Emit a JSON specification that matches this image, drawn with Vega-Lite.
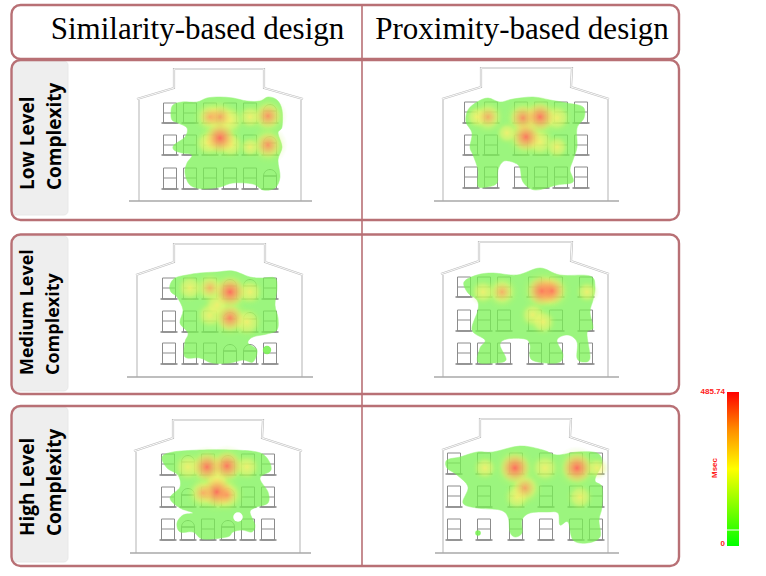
{"$schema":"https://vega.github.io/schema/vega-lite/v6.json","width":766,"height":576,"padding":0,"autosize":"none","background":"white","view":{"stroke":null},"config":{"axis":{"disable":true}},"resolve":{"scale":{"size":"independent"}},
"encoding":{"x":{"field":"x","type":"quantitative","axis":null,"scale":{"domain":[0,766],"nice":false,"zero":false}},"y":{"field":"y","type":"quantitative","axis":null,"scale":{"domain":[0,576],"nice":false,"zero":false,"reverse":true}}},
"datasets":{
"frames":[{"x":11.5,"x2":679,"y":5,"y2":59},{"x":11.5,"x2":679,"y":60,"y2":220},{"x":11.5,"x2":679,"y":234.5,"y2":394},{"x":11.5,"x2":679,"y":406,"y2":566}],
"boxes":[{"x":12,"x2":68,"y":61,"y2":215},{"x":12,"x2":68,"y":236,"y2":391},{"x":12,"x2":68,"y":407,"y2":562}],
"roof":[
{"p":"A","o":1,"x":137,"y":99},{"p":"A","o":2,"x":174,"y":88},{"p":"A","o":3,"x":174,"y":69},{"p":"A","o":4,"x":264,"y":69},{"p":"A","o":5,"x":264,"y":88},{"p":"A","o":6,"x":303,"y":99},
{"p":"B","o":1,"x":442,"y":99},{"p":"B","o":2,"x":481,"y":87},{"p":"B","o":3,"x":481,"y":68},{"p":"B","o":4,"x":572,"y":68},{"p":"B","o":5,"x":571,"y":87},{"p":"B","o":6,"x":609,"y":99},
{"p":"C","o":1,"x":136,"y":275},{"p":"C","o":2,"x":174,"y":262},{"p":"C","o":3,"x":174,"y":244},{"p":"C","o":4,"x":265,"y":244},{"p":"C","o":5,"x":265,"y":262},{"p":"C","o":6,"x":303,"y":275},
{"p":"D","o":1,"x":441,"y":274},{"p":"D","o":2,"x":479,"y":261},{"p":"D","o":3,"x":479,"y":242},{"p":"D","o":4,"x":572,"y":242},{"p":"D","o":5,"x":571,"y":261},{"p":"D","o":6,"x":609,"y":274},
{"p":"E","o":1,"x":134,"y":451},{"p":"E","o":2,"x":173,"y":438},{"p":"E","o":3,"x":173,"y":420},{"p":"E","o":4,"x":263,"y":420},{"p":"E","o":5,"x":262,"y":438},{"p":"E","o":6,"x":302,"y":451},
{"p":"F","o":1,"x":442,"y":450},{"p":"F","o":2,"x":480,"y":437},{"p":"F","o":3,"x":480,"y":419},{"p":"F","o":4,"x":571,"y":419},{"p":"F","o":5,"x":570,"y":437},{"p":"F","o":6,"x":609,"y":450}],
"walls":[{"x":139,"x2":139,"y":100,"y2":201},{"x":301,"x2":301,"y":100,"y2":201},{"x":443,"x2":443,"y":100,"y2":201},{"x":608,"x2":608,"y":100,"y2":201},{"x":137,"x2":137,"y":276,"y2":377},{"x":302,"x2":302,"y":276,"y2":377},{"x":443,"x2":443,"y":275,"y2":377},{"x":608,"x2":608,"y":275,"y2":377},{"x":136,"x2":136,"y":452,"y2":553},{"x":300,"x2":300,"y":452,"y2":553},{"x":443,"x2":443,"y":451,"y2":553},{"x":608,"x2":608,"y":451,"y2":553}],
"ground":[{"x":129,"x2":312,"y":201,"y2":201},{"x":434,"x2":619,"y":201,"y2":201},{"x":127,"x2":313,"y":377,"y2":377},{"x":434,"x2":619,"y":377,"y2":377},{"x":130,"x2":311,"y":553,"y2":553},{"x":435,"x2":619,"y":553,"y2":553}],
"windows":[
{"x":170,"y":103,"m":113,"y2":123},{"x":190,"y":103,"m":113,"y2":123},{"x":210,"y":103,"m":113,"y2":123},{"x":230,"y":103,"m":113,"y2":123},{"x":250,"y":103,"m":113,"y2":123},{"x":270,"y":111,"m":111,"y2":123},
{"x":170,"y":135,"m":145,"y2":155},{"x":190,"y":135,"m":145,"y2":155},{"x":210,"y":135,"m":145,"y2":155},{"x":230,"y":135,"m":145,"y2":155},{"x":250,"y":135,"m":145,"y2":155},{"x":270,"y":143,"m":143,"y2":155},
{"x":170,"y":168,"m":178,"y2":189},{"x":190,"y":168,"m":178,"y2":189},{"x":210,"y":168,"m":178,"y2":189},{"x":230,"y":168,"m":178,"y2":189},{"x":250,"y":168,"m":178,"y2":189},{"x":270,"y":176,"m":176,"y2":189},
{"x":471,"y":102,"m":112,"y2":123},{"x":491,"y":102,"m":112,"y2":123},{"x":521,"y":102,"m":112,"y2":123},{"x":541,"y":102,"m":112,"y2":123},{"x":561,"y":102,"m":112,"y2":123},{"x":581,"y":102,"m":112,"y2":123},
{"x":471,"y":135,"m":145,"y2":155},{"x":491,"y":135,"m":145,"y2":155},{"x":521,"y":135,"m":145,"y2":155},{"x":541,"y":135,"m":145,"y2":155},{"x":561,"y":135,"m":145,"y2":155},{"x":581,"y":135,"m":145,"y2":155},
{"x":471,"y":167,"m":177,"y2":188},{"x":491,"y":167,"m":177,"y2":188},{"x":521,"y":167,"m":177,"y2":188},{"x":541,"y":167,"m":177,"y2":188},{"x":561,"y":167,"m":177,"y2":188},{"x":581,"y":167,"m":177,"y2":188},
{"x":169,"y":278,"m":288,"y2":299},{"x":190,"y":278,"m":288,"y2":299},{"x":210,"y":278,"m":288,"y2":299},{"x":230,"y":286,"m":286,"y2":299},{"x":250,"y":286,"m":286,"y2":299},{"x":270,"y":278,"m":288,"y2":299},
{"x":169,"y":311,"m":321,"y2":332},{"x":190,"y":311,"m":321,"y2":332},{"x":210,"y":311,"m":321,"y2":332},{"x":230,"y":319,"m":319,"y2":332},{"x":250,"y":319,"m":319,"y2":332},{"x":270,"y":311,"m":321,"y2":332},
{"x":169,"y":343,"m":353,"y2":364},{"x":190,"y":343,"m":353,"y2":364},{"x":210,"y":343,"m":353,"y2":364},{"x":230,"y":351,"m":351,"y2":364},{"x":250,"y":351,"m":351,"y2":364},{"x":270,"y":343,"m":353,"y2":364},
{"x":464,"y":277,"m":287,"y2":297},{"x":484,"y":277,"m":287,"y2":297},{"x":504,"y":277,"m":287,"y2":297},{"x":535,"y":277,"m":287,"y2":297},{"x":556,"y":277,"m":287,"y2":297},{"x":586,"y":277,"m":287,"y2":297},
{"x":464,"y":310,"m":320,"y2":331},{"x":484,"y":310,"m":320,"y2":331},{"x":504,"y":310,"m":320,"y2":331},{"x":535,"y":310,"m":320,"y2":331},{"x":556,"y":310,"m":320,"y2":331},{"x":586,"y":310,"m":320,"y2":331},
{"x":464,"y":343,"m":353,"y2":364},{"x":484,"y":343,"m":353,"y2":364},{"x":504,"y":343,"m":353,"y2":364},{"x":535,"y":343,"m":353,"y2":364},{"x":556,"y":343,"m":353,"y2":364},{"x":586,"y":343,"m":353,"y2":364},
{"x":168,"y":454,"m":464,"y2":475},{"x":188,"y":462,"m":462,"y2":475},{"x":208,"y":454,"m":464,"y2":475},{"x":228,"y":462,"m":462,"y2":475},{"x":248,"y":454,"m":464,"y2":475},{"x":268,"y":454,"m":464,"y2":475},
{"x":168,"y":487,"m":497,"y2":507},{"x":188,"y":495,"m":495,"y2":507},{"x":208,"y":487,"m":497,"y2":507},{"x":228,"y":495,"m":495,"y2":507},{"x":248,"y":487,"m":497,"y2":507},{"x":268,"y":487,"m":497,"y2":507},
{"x":168,"y":519,"m":529,"y2":540},{"x":188,"y":527,"m":527,"y2":540},{"x":208,"y":519,"m":529,"y2":540},{"x":228,"y":527,"m":527,"y2":540},{"x":248,"y":519,"m":529,"y2":540},{"x":268,"y":519,"m":529,"y2":540},
{"x":454,"y":453,"m":463,"y2":474},{"x":484,"y":453,"m":463,"y2":474},{"x":516,"y":453,"m":463,"y2":474},{"x":546,"y":453,"m":463,"y2":474},{"x":576,"y":453,"m":463,"y2":474},{"x":596,"y":453,"m":463,"y2":474},
{"x":454,"y":486,"m":496,"y2":507},{"x":484,"y":486,"m":496,"y2":507},{"x":516,"y":486,"m":496,"y2":507},{"x":546,"y":486,"m":496,"y2":507},{"x":576,"y":486,"m":496,"y2":507},{"x":596,"y":486,"m":496,"y2":507},
{"x":454,"y":519,"m":529,"y2":540},{"x":484,"y":519,"m":529,"y2":540},{"x":516,"y":519,"m":529,"y2":540},{"x":546,"y":519,"m":529,"y2":540},{"x":576,"y":519,"m":529,"y2":540},{"x":596,"y":519,"m":529,"y2":540}],
"arches":[{"x":270,"y":111},{"x":270,"y":143},{"x":270,"y":176},{"x":230,"y":286},{"x":250,"y":286},{"x":230,"y":319},{"x":250,"y":319},{"x":230,"y":351},{"x":250,"y":351},{"x":188,"y":462},{"x":228,"y":462},{"x":188,"y":495},{"x":228,"y":495},{"x":188,"y":527},{"x":228,"y":527}],
"green":[
{"p":"A","o":1,"x":171,"y":112},{"p":"A","o":2,"x":173,"y":105},{"p":"A","o":3,"x":182,"y":102},{"p":"A","o":4,"x":197,"y":102},{"p":"A","o":5,"x":207,"y":98},{"p":"A","o":6,"x":220,"y":97},{"p":"A","o":7,"x":233,"y":98},{"p":"A","o":8,"x":247,"y":101},{"p":"A","o":9,"x":260,"y":101},{"p":"A","o":10,"x":268,"y":97},{"p":"A","o":11,"x":277,"y":100},{"p":"A","o":12,"x":282,"y":110},{"p":"A","o":13,"x":282,"y":127},{"p":"A","o":14,"x":278,"y":133},{"p":"A","o":15,"x":282,"y":147},{"p":"A","o":16,"x":278,"y":160},{"p":"A","o":17,"x":280,"y":177},{"p":"A","o":18,"x":275,"y":188},{"p":"A","o":19,"x":263,"y":190},{"p":"A","o":20,"x":253,"y":184},{"p":"A","o":21,"x":233,"y":183},{"p":"A","o":22,"x":220,"y":187},{"p":"A","o":23,"x":203,"y":189},{"p":"A","o":24,"x":190,"y":185},{"p":"A","o":25,"x":185,"y":173},{"p":"A","o":26,"x":187,"y":163},{"p":"A","o":27,"x":192,"y":155},{"p":"A","o":28,"x":182,"y":153},{"p":"A","o":29,"x":174,"y":150},{"p":"A","o":30,"x":174,"y":145},{"p":"A","o":31,"x":185,"y":137},{"p":"A","o":32,"x":187,"y":128},{"p":"A","o":33,"x":178,"y":123},{"p":"A","o":34,"x":172,"y":120},
{"p":"B","o":1,"x":466,"y":122},{"p":"B","o":2,"x":468,"y":110},{"p":"B","o":3,"x":477,"y":102},{"p":"B","o":4,"x":488,"y":98},{"p":"B","o":5,"x":500,"y":102},{"p":"B","o":6,"x":513,"y":99},{"p":"B","o":7,"x":533,"y":97},{"p":"B","o":8,"x":550,"y":100},{"p":"B","o":9,"x":567,"y":103},{"p":"B","o":10,"x":583,"y":107},{"p":"B","o":11,"x":584,"y":118},{"p":"B","o":12,"x":577,"y":128},{"p":"B","o":13,"x":577,"y":147},{"p":"B","o":14,"x":573,"y":160},{"p":"B","o":15,"x":570,"y":170},{"p":"B","o":16,"x":573,"y":182},{"p":"B","o":17,"x":557,"y":185},{"p":"B","o":18,"x":535,"y":190},{"p":"B","o":19,"x":523,"y":182},{"p":"B","o":20,"x":520,"y":168},{"p":"B","o":21,"x":515,"y":163},{"p":"B","o":22,"x":504,"y":161},{"p":"B","o":23,"x":498,"y":170},{"p":"B","o":24,"x":497,"y":183},{"p":"B","o":25,"x":487,"y":187},{"p":"B","o":26,"x":478,"y":186},{"p":"B","o":27,"x":478,"y":170},{"p":"B","o":28,"x":473,"y":155},{"p":"B","o":29,"x":470,"y":147},{"p":"B","o":30,"x":472,"y":133},
{"p":"C","o":1,"x":170,"y":285},{"p":"C","o":2,"x":175,"y":278},{"p":"C","o":3,"x":187,"y":275},{"p":"C","o":4,"x":200,"y":273},{"p":"C","o":5,"x":217,"y":272},{"p":"C","o":6,"x":233,"y":271},{"p":"C","o":7,"x":250,"y":277},{"p":"C","o":8,"x":263,"y":278},{"p":"C","o":9,"x":275,"y":278},{"p":"C","o":10,"x":277,"y":288},{"p":"C","o":11,"x":275,"y":305},{"p":"C","o":12,"x":278,"y":318},{"p":"C","o":13,"x":277,"y":330},{"p":"C","o":14,"x":267,"y":334},{"p":"C","o":15,"x":253,"y":337},{"p":"C","o":16,"x":248,"y":343},{"p":"C","o":17,"x":257,"y":350},{"p":"C","o":18,"x":253,"y":362},{"p":"C","o":19,"x":243,"y":360},{"p":"C","o":20,"x":230,"y":363},{"p":"C","o":21,"x":212,"y":363},{"p":"C","o":22,"x":200,"y":358},{"p":"C","o":23,"x":185,"y":357},{"p":"C","o":24,"x":185,"y":342},{"p":"C","o":25,"x":188,"y":333},{"p":"C","o":26,"x":180,"y":323},{"p":"C","o":27,"x":183,"y":310},{"p":"C","o":28,"x":177,"y":297},{"p":"C","o":29,"x":171,"y":292},
{"p":"D","o":1,"x":464,"y":282},{"p":"D","o":2,"x":477,"y":275},{"p":"D","o":3,"x":493,"y":273},{"p":"D","o":4,"x":517,"y":275},{"p":"D","o":5,"x":540,"y":268},{"p":"D","o":6,"x":560,"y":275},{"p":"D","o":7,"x":590,"y":276},{"p":"D","o":8,"x":595,"y":287},{"p":"D","o":9,"x":593,"y":300},{"p":"D","o":10,"x":590,"y":312},{"p":"D","o":11,"x":593,"y":328},{"p":"D","o":12,"x":587,"y":333},{"p":"D","o":13,"x":590,"y":358},{"p":"D","o":14,"x":583,"y":362},{"p":"D","o":15,"x":577,"y":358},{"p":"D","o":16,"x":577,"y":342},{"p":"D","o":17,"x":568,"y":335},{"p":"D","o":18,"x":557,"y":340},{"p":"D","o":19,"x":563,"y":355},{"p":"D","o":20,"x":557,"y":363},{"p":"D","o":21,"x":532,"y":360},{"p":"D","o":22,"x":530,"y":345},{"p":"D","o":23,"x":525,"y":339},{"p":"D","o":24,"x":507,"y":339},{"p":"D","o":25,"x":500,"y":345},{"p":"D","o":26,"x":506,"y":360},{"p":"D","o":27,"x":493,"y":363},{"p":"D","o":28,"x":478,"y":362},{"p":"D","o":29,"x":480,"y":348},{"p":"D","o":30,"x":485,"y":340},{"p":"D","o":31,"x":472,"y":330},{"p":"D","o":32,"x":478,"y":310},{"p":"D","o":33,"x":477,"y":300},{"p":"D","o":34,"x":468,"y":293},
{"p":"E","o":1,"x":162,"y":457},{"p":"E","o":2,"x":173,"y":452},{"p":"E","o":3,"x":200,"y":450},{"p":"E","o":4,"x":233,"y":450},{"p":"E","o":5,"x":257,"y":452},{"p":"E","o":6,"x":267,"y":458},{"p":"E","o":7,"x":271,"y":470},{"p":"E","o":8,"x":260,"y":478},{"p":"E","o":9,"x":268,"y":492},{"p":"E","o":10,"x":268,"y":503},{"p":"E","o":11,"x":257,"y":507},{"p":"E","o":12,"x":250,"y":512},{"p":"E","o":13,"x":255,"y":525},{"p":"E","o":14,"x":252,"y":532},{"p":"E","o":15,"x":242,"y":530},{"p":"E","o":16,"x":233,"y":532},{"p":"E","o":17,"x":227,"y":537},{"p":"E","o":18,"x":203,"y":539},{"p":"E","o":19,"x":193,"y":532},{"p":"E","o":20,"x":180,"y":532},{"p":"E","o":21,"x":177,"y":523},{"p":"E","o":22,"x":183,"y":515},{"p":"E","o":23,"x":193,"y":513},{"p":"E","o":24,"x":180,"y":508},{"p":"E","o":25,"x":170,"y":498},{"p":"E","o":26,"x":180,"y":487},{"p":"E","o":27,"x":178,"y":475},{"p":"E","o":28,"x":167,"y":468},
{"p":"F","o":1,"x":447,"y":460},{"p":"F","o":2,"x":460,"y":457},{"p":"F","o":3,"x":477,"y":452},{"p":"F","o":4,"x":493,"y":452},{"p":"F","o":5,"x":520,"y":446},{"p":"F","o":6,"x":543,"y":450},{"p":"F","o":7,"x":557,"y":455},{"p":"F","o":8,"x":577,"y":452},{"p":"F","o":9,"x":597,"y":453},{"p":"F","o":10,"x":602,"y":463},{"p":"F","o":11,"x":595,"y":480},{"p":"F","o":12,"x":602,"y":487},{"p":"F","o":13,"x":602,"y":507},{"p":"F","o":14,"x":599,"y":520},{"p":"F","o":15,"x":600,"y":537},{"p":"F","o":16,"x":587,"y":543},{"p":"F","o":17,"x":573,"y":540},{"p":"F","o":18,"x":568,"y":522},{"p":"F","o":19,"x":560,"y":525},{"p":"F","o":20,"x":558,"y":513},{"p":"F","o":21,"x":547,"y":512},{"p":"F","o":22,"x":530,"y":513},{"p":"F","o":23,"x":522,"y":520},{"p":"F","o":24,"x":522,"y":533},{"p":"F","o":25,"x":515,"y":537},{"p":"F","o":26,"x":510,"y":532},{"p":"F","o":27,"x":508,"y":517},{"p":"F","o":28,"x":500,"y":510},{"p":"F","o":29,"x":477,"y":508},{"p":"F","o":30,"x":463,"y":503},{"p":"F","o":31,"x":468,"y":487},{"p":"F","o":32,"x":457,"y":475},{"p":"F","o":33,"x":447,"y":468}],
"dots":[{"x":267,"y":350,"msec":60},{"x":478,"y":533,"msec":20}],
"heat":[
{"p":"A","x":268,"y":116,"msec":370},{"p":"A","x":220,"y":117,"msec":330},{"p":"A","x":210,"y":117,"msec":300},{"p":"A","x":220,"y":138,"msec":470},{"p":"A","x":268,"y":145,"msec":370},{"p":"A","x":208,"y":143,"msec":200},{"p":"A","x":231,"y":145,"msec":200},{"p":"A","x":250,"y":117,"msec":170},{"p":"A","x":230,"y":120,"msec":240},{"p":"A","x":250,"y":147,"msec":110},
{"p":"B","x":488,"y":117,"msec":310},{"p":"B","x":523,"y":118,"msec":380},{"p":"B","x":540,"y":117,"msec":440},{"p":"B","x":526,"y":137,"msec":440},{"p":"B","x":540,"y":142,"msec":240},{"p":"B","x":557,"y":118,"msec":230},{"p":"B","x":507,"y":133,"msec":130},{"p":"B","x":557,"y":147,"msec":150},{"p":"B","x":477,"y":117,"msec":140},
{"p":"C","x":230,"y":292,"msec":470},{"p":"C","x":210,"y":288,"msec":280},{"p":"C","x":190,"y":288,"msec":200},{"p":"C","x":250,"y":292,"msec":200},{"p":"C","x":230,"y":318,"msec":400},{"p":"C","x":210,"y":315,"msec":210},{"p":"C","x":247,"y":322,"msec":260},{"p":"C","x":217,"y":305,"msec":180},
{"p":"D","x":542,"y":291,"msec":470},{"p":"D","x":552,"y":291,"msec":410},{"p":"D","x":502,"y":292,"msec":300},{"p":"D","x":483,"y":292,"msec":180},{"p":"D","x":533,"y":315,"msec":190},{"p":"D","x":543,"y":322,"msec":190},{"p":"D","x":587,"y":292,"msec":130},
{"p":"E","x":207,"y":467,"msec":440},{"p":"E","x":227,"y":466,"msec":440},{"p":"E","x":188,"y":467,"msec":240},{"p":"E","x":247,"y":467,"msec":190},{"p":"E","x":217,"y":492,"msec":470},{"p":"E","x":203,"y":493,"msec":300},{"p":"E","x":227,"y":495,"msec":320},{"p":"E","x":217,"y":480,"msec":180},
{"p":"F","x":515,"y":468,"msec":470},{"p":"F","x":577,"y":468,"msec":470},{"p":"F","x":525,"y":488,"msec":330},{"p":"F","x":545,"y":468,"msec":240},{"p":"F","x":485,"y":468,"msec":160},{"p":"F","x":580,"y":497,"msec":190},{"p":"F","x":517,"y":497,"msec":200},{"p":"F","x":597,"y":468,"msec":130}],
"titles":[{"x":197.5,"y":39,"t":"Similarity-based design"},{"x":522,"y":39,"t":"Proximity-based design"}],
"side":[{"x":28,"y":190,"t":"Low Level"},{"x":55,"y":190,"t":"Complexity"},{"x":28,"y":536,"t":"High Level"},{"x":55,"y":536,"t":"Complexity"}],
"sideM":[{"x":28,"y":375,"t":"Medium Level"},{"x":54,"y":375,"t":"Complexity"}],
"bar":[{"x":727,"x2":739,"y":392,"y2":546}],
"barTick":[{"x":727,"x2":739,"y":530,"y2":530}],
"barLabels":[{"x":725,"y":392,"t":"485.74"},{"x":725,"y":544,"t":"0"}],
"barTitle":[{"x":715,"y":468,"t":"Msec"}]
},
"layer":[
{"data":{"name":"roof"},"mark":{"type":"line","stroke":"#c0c0c0","strokeWidth":2.2,"strokeJoin":"miter"},"encoding":{"detail":{"field":"p"},"order":{"field":"o","type":"quantitative"}}},
{"data":{"name":"roof"},"mark":{"type":"line","stroke":"#ffffff","strokeWidth":0.9,"strokeJoin":"miter"},"encoding":{"detail":{"field":"p"},"order":{"field":"o","type":"quantitative"}}},
{"data":{"name":"walls"},"mark":{"type":"rule","stroke":"#c0c0c0","strokeWidth":1.2},"encoding":{"x2":{"field":"x2"},"y2":{"field":"y2"}}},
{"data":{"name":"ground"},"mark":{"type":"rule","stroke":"#a8a8a8","strokeWidth":1.4},"encoding":{"x2":{"field":"x2"},"y2":{"field":"y2"}}},
{"data":{"name":"windows"},"mark":{"type":"rect","width":13,"fill":"transparent","stroke":"#8c8c8c","strokeWidth":1},"encoding":{"y2":{"field":"y2"}}},
{"data":{"name":"windows"},"mark":{"type":"tick","orient":"horizontal","size":13,"thickness":1,"color":"#8c8c8c","opacity":1},"encoding":{"y":{"field":"m","type":"quantitative","axis":null}}},
{"data":{"name":"windows"},"mark":{"type":"tick","orient":"horizontal","size":17,"thickness":1.6,"color":"#8a8a8a","opacity":1},"encoding":{"y":{"field":"y2","type":"quantitative","axis":null}}},
{"data":{"name":"arches"},"mark":{"type":"point","shape":"M-1,0A1,1,0,0,1,1,0","size":169,"filled":false,"stroke":"#8c8c8c","strokeWidth":1,"opacity":1}},
{"data":{"name":"green"},"mark":{"type":"line","interpolate":"cardinal-closed","fill":"#7af254","stroke":"#7af254","strokeWidth":0.5,"opacity":0.75},"encoding":{"detail":{"field":"p"},"order":{"field":"o","type":"quantitative"}}},
{"data":{"name":"dots"},"mark":{"type":"circle","fill":"#7af254","opacity":0.9},"encoding":{"size":{"field":"msec","type":"quantitative","legend":null,"scale":{"domain":[20,60],"range":[30,70]}}}},
{"data":{"values":[{"x":238,"y":517}]},"mark":{"type":"circle","fill":"#ffffff","opacity":1,"size":90}},
{"data":{"name":"heat"},"mark":{"type":"circle","opacity":1,"fill":{"gradient":"radial","x1":0.5,"y1":0.5,"x2":0.5,"y2":0.5,"r1":0,"r2":0.5,"stops":[{"offset":0,"color":"rgba(250,240,110,0.85)"},{"offset":0.5,"color":"rgba(240,245,110,0.5)"},{"offset":0.8,"color":"rgba(200,245,100,0.12)"},{"offset":1,"color":"rgba(180,245,100,0)"}]}},"encoding":{"size":{"field":"msec","type":"quantitative","legend":null,"scale":{"domain":[100,485],"range":[500,2000]}}}},
{"data":{"name":"heat"},"transform":[{"filter":"datum.msec >= 280"}],"mark":{"type":"circle","fill":{"gradient":"radial","x1":0.5,"y1":0.5,"x2":0.5,"y2":0.5,"r1":0,"r2":0.5,"stops":[{"offset":0,"color":"rgba(255,80,90,0.85)"},{"offset":0.45,"color":"rgba(255,130,90,0.55)"},{"offset":1,"color":"rgba(255,200,90,0)"}]}},"encoding":{"size":{"field":"msec","type":"quantitative","legend":null,"scale":{"domain":[280,485],"range":[380,1000]}},"opacity":{"field":"msec","type":"quantitative","legend":null,"scale":{"domain":[280,485],"range":[0.4,1]}}}},
{"data":{"name":"boxes"},"mark":{"type":"rect","fill":"#eeeeee","stroke":"#e4e4e4","strokeWidth":0.8,"cornerRadius":4},"encoding":{"x2":{"field":"x2"},"y2":{"field":"y2"}}},
{"data":{"name":"frames"},"mark":{"type":"rect","fill":"transparent","stroke":"#b87075","strokeWidth":2.4,"cornerRadius":9},"encoding":{"x2":{"field":"x2"},"y2":{"field":"y2"}}},
{"data":{"values":[{"x":362,"x2":362,"y":5,"y2":566}]},"mark":{"type":"rule","stroke":"#b87075","strokeWidth":1.6},"encoding":{"x2":{"field":"x2"},"y2":{"field":"y2"}}},
{"data":{"name":"titles"},"mark":{"type":"text","font":"Liberation Serif","fontSize":31,"color":"#000000","align":"center","baseline":"alphabetic"},"encoding":{"text":{"field":"t"}}},
{"data":{"name":"side"},"mark":{"type":"text","font":"Open Sans","fontWeight":"bold","fontSize":19,"color":"#000000","align":"left","baseline":"middle","angle":270},"encoding":{"text":{"field":"t"}}},
{"data":{"name":"sideM"},"mark":{"type":"text","font":"Open Sans","fontWeight":"bold","fontSize":18,"color":"#000000","align":"left","baseline":"middle","angle":270},"encoding":{"text":{"field":"t"}}},
{"data":{"name":"bar"},"mark":{"type":"rect","fill":{"gradient":"linear","x1":0,"y1":0,"x2":0,"y2":1,"stops":[{"offset":0,"color":"#ff0000"},{"offset":0.25,"color":"#ff9000"},{"offset":0.5,"color":"#ffff00"},{"offset":0.75,"color":"#80ff00"},{"offset":1,"color":"#00ff00"}]}},"encoding":{"x2":{"field":"x2"},"y2":{"field":"y2"}}},
{"data":{"name":"barTick"},"mark":{"type":"rule","stroke":"#ffffff","strokeWidth":1},"encoding":{"x2":{"field":"x2"},"y2":{"field":"y2"}}},
{"data":{"name":"barLabels"},"mark":{"type":"text","font":"Liberation Sans","fontWeight":"bold","fontSize":8,"color":"#ff2020","align":"right","baseline":"middle"},"encoding":{"text":{"field":"t"}}},
{"data":{"name":"barTitle"},"mark":{"type":"text","font":"Liberation Sans","fontWeight":"bold","fontSize":8,"color":"#ff2020","align":"center","baseline":"middle","angle":270},"encoding":{"text":{"field":"t"}}}
]}
